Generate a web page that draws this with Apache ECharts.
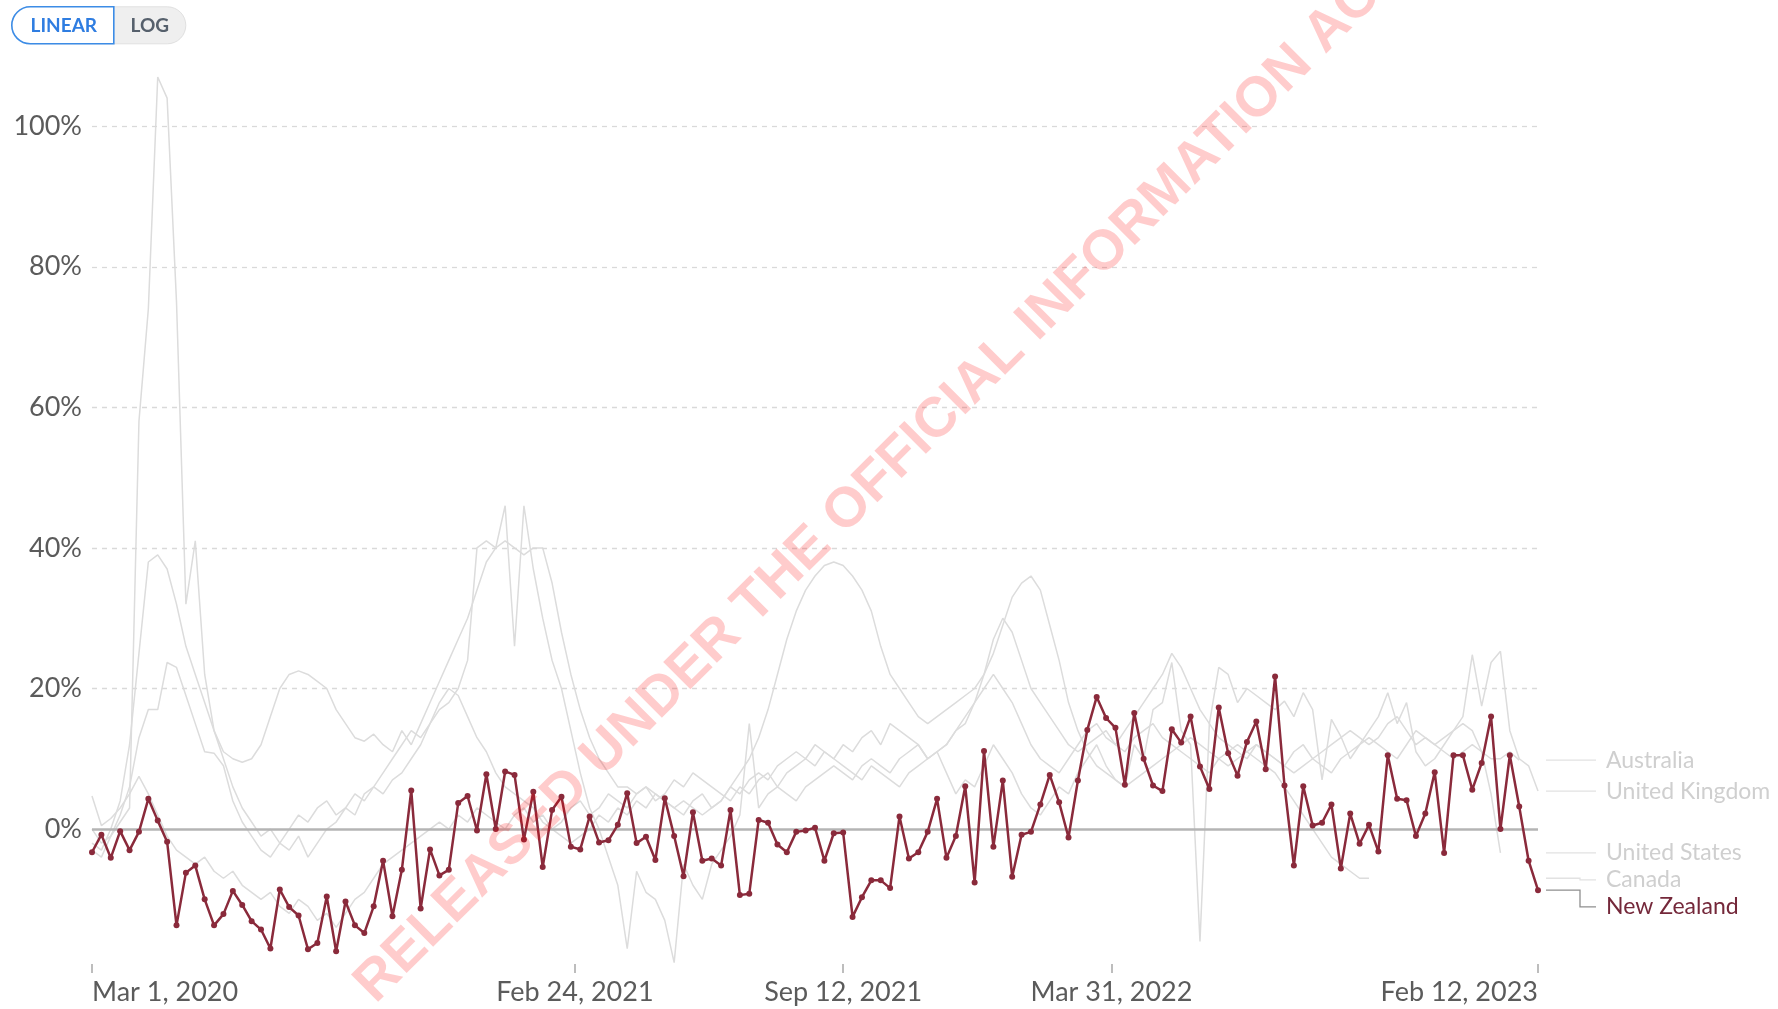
<!DOCTYPE html>
<html>
<head>
<meta charset="utf-8">
<script src="https://cdn.jsdelivr.net/npm/echarts@6/dist/echarts.min.js"></script>
<style>
  html, body { margin: 0; padding: 0; background: #fff; }
  #chart { width: 1778px; height: 1009px; }
</style>
</head>
<body>
<div id="chart"></div>
<script>
// weekly series, first week = Mar 1, 2020
var weekStart = Date.UTC(2020, 2, 1);
var WEEK = 7 * 24 * 3600 * 1000;

var tickDates = ['2020-03-01', '2021-02-24', '2021-09-12', '2022-03-31', '2023-02-12'];
var yTicks = [0, 20, 40, 60, 80, 100];

var newZealand = [
  -3.3, -0.8, -4.1, -0.3, -3.0, -0.4, 4.3, 1.2, -1.8, -13.7,
  -6.2, -5.2, -10.0, -13.7, -12.1, -8.8, -10.8, -13.1, -14.3, -17.0,
  -8.6, -11.1, -12.3, -17.1, -16.2, -9.6, -17.4, -10.3, -13.7, -14.8,
  -11.0, -4.5, -12.4, -5.8, 5.5, -11.3, -2.9, -6.6, -5.8, 3.7,
  4.7, -0.2, 7.8, 0, 8.2, 7.7, -1.5, 5.3, -5.4, 2.7,
  4.6, -2.5, -2.9, 1.8, -1.9, -1.6, 0.6, 5.1, -2.0, -1.1,
  -4.4, 4.4, -1.0, -6.7, 2.4, -4.5, -4.2, -5.2, 2.7, -9.4,
  -9.2, 1.3, 0.9, -2.2, -3.3, -0.4, -0.2, 0.2, -4.5, -0.6,
  -0.5, -12.5, -9.7, -7.3, -7.3, -8.4, 1.8, -4.2, -3.3, -0.4,
  4.3, -4.1, -1.0, 6.1, -7.6, 11.1, -2.5, 6.9, -6.8, -0.8,
  -0.4, 3.5, 7.7, 3.8, -1.2, 6.9, 14.1, 18.8, 15.8, 14.4,
  6.3, 16.5, 10.0, 6.2, 5.4, 14.2, 12.3, 16.0, 8.9, 5.7,
  17.3, 10.8, 7.6, 12.4, 15.3, 8.5, 21.7, 6.2, -5.2, 6.1,
  0.5, 0.9, 3.5, -5.6, 2.2, -2.1, 0.6, -3.2, 10.5, 4.3,
  4.1, -1.0, 2.2, 8.1, -3.4, 10.5, 10.5, 5.6, 9.4, 16.0,
  0.0, 10.5, 3.2, -4.5, -8.7
];

var unitedKingdom = [
  -3, -4, -1, 1, 3, 58, 74, 107, 104, 75,
  32, 41, 22, 14, 10, 6, 3, 1, -1, 0,
  -2, -3, -1, -4, -2, 0, 1, 3, 2, 5,
  6, 8, 10, 12, 14, 13, 15, 17, 18, 20,
  24, 40, 41, 40, 46, 26, 46, 37, 30, 24,
  20, 14, 8, 3, 0, -4, -8, -17, -6, -9,
  -10, -13, -19, -5, -8, -10, -5, -3, -1, 2,
  15, 3, 5, 6, 8, 9, 10, 9, 11, 10,
  12, 11, 13, 14, 12, 15, 14, 13, 12, 10,
  11, 8, 5, 7, 6, 9, 12, 10, 8, 5,
  3, 2, 4, 6, 5, 8, 10, 12, 9, 7,
  6, 12, 10, 17, 18, 23.7, 14, 12, -16, 15,
  23, 22, 18, 20, 19, 18, 17, 18.2, 16, 19.4,
  17, 7, 15.6, 13.2, 10, 12, 14, 16, 19.4, 15,
  18, 11, 9, 10, 12, 14, 16, 24.8, 17.5, 23.7,
  25.3, 14, 10, 9, 5.4
];

var unitedStates = [
  -2, -3, 0, 4, 12, 25, 38, 39, 37, 32,
  26, 22, 18, 14, 11, 10, 9.5, 10, 12, 16,
  20, 22, 22.5, 22, 21, 20, 17, 15, 13, 12.5,
  13.5, 12, 11, 14, 12, 15, 18, 21, 24, 27,
  30, 34, 38, 40, 41, 40, 39, 40, 40, 35,
  28, 22, 17, 13, 10, 8, 6, 6, 5, 6,
  5, 4, 3, 4, 3, 2, 3, 4, 6, 8,
  10, 13, 17, 22, 27, 31, 34, 36, 37.5, 38,
  37.5, 36, 34, 31, 26, 22, 20, 18, 16, 15,
  16, 17, 18, 19, 20, 22, 25, 29, 33, 35,
  36, 34, 29, 24, 18, 14, 11, 9, 8, 7,
  6, 7, 8, 9, 10, 11, 12, 13, 12, 11,
  10, 9, 10, 11, 12, 11, 10, 9, 8, 9,
  10, 11, 12, 13, 14, 13, 12, 13, 15, 16,
  14, 12, 13, 12, 13, 14, 15, 14, 11, 5,
  -3.4
];

var australia = [
  4.7, 0.5, 1.5, 3, 5, 7.5, 5, 2, -1, -3,
  -4, -5, -4, -6, -7, -6, -8, -9, -10, -9,
  -11, -12, -10, -11, -13, -12, -14, -12, -10, -9,
  -7, -5, -4, -3, -2, -1, 0, 1, 0, 2,
  1, 3, 2, 1, 0, 2, 3, 1, 2, 0,
  1, 3, 4, 2, 3, 5, 4, 3, 5, 6,
  4, 5, 7, 6, 8, 7, 6, 5, 4, 6,
  5, 7, 8, 6, 5, 4, 6, 7, 8, 9,
  8, 7, 9, 10, 9, 8, 10, 11, 12, 10,
  11, 12, 14, 15, 18, 20, 22, 20, 18, 15,
  12, 10, 9, 8, 10, 12, 14, 15, 13, 12,
  14, 16, 18, 20, 22, 25, 23, 20, 17, 15,
  13, 12, 11, 10, 12, 11, 10, 9, 11, 12,
  10, 9, 8, 10, 11, 12, 13, 12, 11, 10,
  12, 14, 13, 12, 11, 10, 11, 12, 11, 10,
  10, 11, 9.8
];

var canada = [
  0, -2, -1, 2, 6, 13, 17, 17, 23.7, 23,
  19, 15, 11, 10.8, 9, 4, 1, -1, -3, -4,
  -2, 0, 2, 1, 3, 4, 2, 3, 5, 4,
  6, 5, 7, 8, 10, 12, 15, 18, 20, 19,
  16, 13, 11, 8, 6, 5, 4, 3, 1, 0,
  -1, -2, -1, 0, 2, 1, 3, 2, 4, 3,
  5, 4, 3, 2, 4, 5, 3, 4, 6, 5,
  7, 8, 7, 9, 10, 11, 10, 12, 11, 10,
  9, 8, 7, 9, 8, 7, 6, 8, 9, 10,
  11, 12, 14, 16, 18, 22, 27, 30, 28, 24,
  20, 18, 16, 14, 12, 11, 12, 13, 14, 12,
  11, 13, 14, 15, 13, 12, 11, 10, 9, 8,
  10, 11, 12, 11, 10, 9, 8, 6, 4, 2,
  0, -2, -4, -5, -6, -7, -7
];

var MONTHS = ['Jan', 'Feb', 'Mar', 'Apr', 'May', 'Jun', 'Jul', 'Aug', 'Sep', 'Oct', 'Nov', 'Dec'];
function fmtDate(v) {
  var d = new Date(v);
  return MONTHS[d.getUTCMonth()] + ' ' + d.getUTCDate() + ', ' + d.getUTCFullYear();
}

function toPoints(values) {
  return values.map(function (v, i) { return [weekStart + i * WEEK, v]; });
}

var tickTimes = tickDates.map(function (s) { return new Date(s + 'T00:00:00Z').getTime(); });
var xMin = tickTimes[0];
var xMax = tickTimes[tickTimes.length - 1];

var NZ_COLOR = '#8a2a3b';
var GREY_LINE = '#dcdcdc';

var greyCountries = [
  { name: 'Canada', values: canada },
  { name: 'United States', values: unitedStates },
  { name: 'Australia', values: australia },
  { name: 'United Kingdom', values: unitedKingdom }
];

var series = greyCountries.map(function (c, i) {
  var s = {
    name: c.name,
    type: 'line',
    data: toPoints(c.values),
    showSymbol: false,
    silent: true,
    lineStyle: { color: GREY_LINE, width: 1.5 },
    z: 2
  };
  if (i === 0) {
    s.markLine = {
      silent: true,
      symbol: 'none',
      label: { show: false },
      animation: false,
      data: yTicks.map(function (v) {
        return {
          yAxis: v,
          lineStyle: v === 0
            ? { color: '#b4b4b4', width: 2.5, type: 'solid' }
            : { color: '#d9d9d9', width: 1.3, type: [5, 5] }
        };
      })
    };
  }
  return s;
});

series.push({
  name: 'New Zealand',
  type: 'line',
  data: toPoints(newZealand),
  symbol: 'circle',
  symbolSize: 6,
  showSymbol: true,
  itemStyle: { color: NZ_COLOR },
  lineStyle: { color: NZ_COLOR, width: 2.5 },
  z: 5
});

var chart = echarts.init(document.getElementById('chart'));

var option = {
  animation: false,
  backgroundColor: '#fff',
  textStyle: { fontFamily: 'Lato, sans-serif' },
  grid: { left: 92, right: 240, top: 70, bottom: 45, containLabel: false },
  xAxis: {
    type: 'value',
    min: xMin,
    max: xMax,
    axisLine: { show: false, onZero: false },
    splitLine: { show: false },
    axisTick: {
      show: true,
      customValues: tickTimes,
      length: 9,
      lineStyle: { color: '#a8a8a8', width: 1.5 }
    },
    axisLabel: {
      customValues: tickTimes,
      formatter: fmtDate,
      color: '#5b5b5b',
      fontSize: 27,
      margin: 15,
      alignMinLabel: 'left',
      alignMaxLabel: 'right',
      showMinLabel: true,
      showMaxLabel: true
    }
  },
  yAxis: {
    type: 'value',
    min: -19.2,
    max: 108,
    axisLine: { show: false },
    axisTick: { show: false },
    splitLine: { show: false },
    axisLabel: {
      customValues: yTicks,
      formatter: function (v) { return v + '%'; },
      color: '#5b5b5b',
      fontSize: 27,
      margin: 10
    }
  },
  series: series,
  graphic: [
    {
      type: 'group', id: 'scaleToggle', left: 11, top: 6,
      children: [
        { type: 'rect', shape: { x: 0, y: 0, width: 174, height: 37, r: 18.5 },
          style: { fill: '#efefef', stroke: '#e0e0e0', lineWidth: 1 } },
        { type: 'rect', shape: { x: 0, y: 0, width: 102, height: 37, r: [18.5, 0, 0, 18.5] },
          style: { fill: '#ffffff', stroke: '#3c8ce6', lineWidth: 1.6 } },
        { type: 'text', x: 52, y: 19,
          style: { text: 'LINEAR', font: 'bold 19px Lato', fill: '#2f7de1', align: 'center', verticalAlign: 'middle' } },
        { type: 'text', x: 138, y: 19,
          style: { text: 'LOG', font: 'bold 19px Lato', fill: '#56606c', align: 'center', verticalAlign: 'middle' } }
      ]
    },
    {
      type: 'text', id: 'watermark', x: 880, y: 478, rotation: Math.PI / 4, z: 100, silent: true,
      style: {
        text: 'RELEASED UNDER THE OFFICIAL INFORMATION ACT',
        font: 'bold 56px "Liberation Sans", Arial, sans-serif',
        fill: 'rgba(255, 0, 0, 0.2)',
        align: 'center',
        verticalAlign: 'middle'
      }
    }
  ]
};

chart.setOption(option);

// end labels with connectors, pushed apart where they would overlap
var labelItems = greyCountries.map(function (c) {
  return { name: c.name, values: c.values, color: '#cfcfcf', lineColor: '#e2e2e2' };
});
labelItems.push({ name: 'New Zealand', values: newZealand, color: '#74283a', lineColor: '#8f8f8f' });

var plotRight = chart.convertToPixel({ xAxisIndex: 0 }, xMax);
labelItems.forEach(function (it) {
  var last = it.values[it.values.length - 1];
  it.py = chart.convertToPixel({ yAxisIndex: 0 }, last);
});
labelItems.sort(function (a, b) { return a.py - b.py; });
var GAP = 27;
labelItems.forEach(function (it, i) {
  it.ly = i === 0 ? it.py : Math.max(it.py, labelItems[i - 1].ly + GAP);
});

var endGraphics = [];
labelItems.forEach(function (it, i) {
  var x0 = plotRight + 8, xe = plotRight + 42, x1 = plotRight + 58;
  endGraphics.push({
    type: 'polyline', id: 'conn' + i, silent: true,
    shape: { points: [[x0, it.py], [xe, it.py], [xe, it.ly], [x1, it.ly]] },
    style: { stroke: it.lineColor, lineWidth: 1.3, fill: null }
  });
  endGraphics.push({
    type: 'text', id: 'lab' + i, silent: true, x: plotRight + 68, y: it.ly,
    style: { text: it.name, font: '23px Lato', fill: it.color, align: 'left', verticalAlign: 'middle' }
  });
});
chart.setOption({ graphic: endGraphics });
</script>
</body>
</html>
